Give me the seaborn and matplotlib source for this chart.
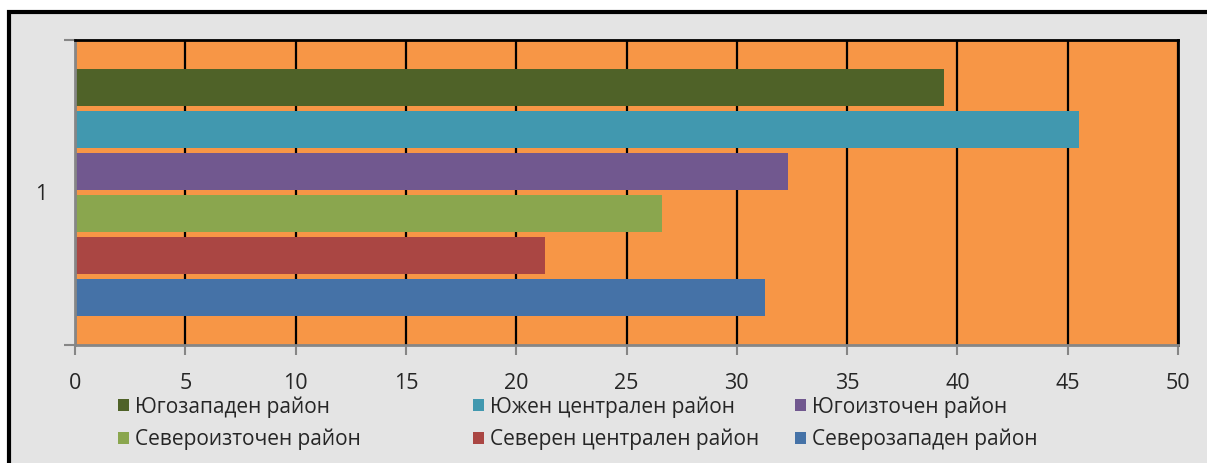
import pandas as pd
import seaborn as sns
import matplotlib.pyplot as plt
from matplotlib.patches import Rectangle

# chart data
regions = ['Югозападен район', 'Южен централен район', 'Югоизточен район',
           'Североизточен район', 'Северен централен район', 'Северозападен район']
values = [39.4, 45.5, 32.3, 26.6, 21.3, 31.3]
category = ['1'] * len(regions)
colors = ['#4f6228', '#4198af', '#71588f', '#8aa64e', '#aa4643', '#4572a7']

df = pd.DataFrame({'cat': category, 'region': regions, 'value': values})

sns.set_style('white')
plt.rcParams['font.family'] = ['Open Sans', 'DejaVu Sans']

fig = plt.figure(figsize=(12.07, 4.63), dpi=100, facecolor='white')
fig.patches.append(Rectangle((8.5 / 1207, -0.1), 1.2, 1 - 11.5 / 463 + 0.1,
                             transform=fig.transFigure, facecolor='#e4e4e4',
                             edgecolor='black', lw=3, zorder=-10))
ax = fig.add_axes([75 / 1207, 1 - 345 / 463, (1178 - 75) / 1207, (345 - 40) / 463])

sns.barplot(data=df, x='value', y='cat', hue='region', hue_order=regions,
            palette=colors, orient='h', width=0.826, gap=0.12, ax=ax,
            saturation=1, linewidth=0)

handles, labels = ax.get_legend_handles_labels()
ax.get_legend().remove()

ax.set_facecolor('#f79646')
ax.set_xlim(0, 50)
ax.set_xticks(range(0, 51, 5))
ax.set_xlabel('')
ax.set_ylabel('')
ax.set_yticks([0], ['1'])
ax.set_yticks([-0.5, 0.5], minor=True)
ax.tick_params(axis='y', which='major', length=0, pad=20, labelsize=15.5)
ax.tick_params(axis='y', which='minor', length=8, width=1.5, color='#868686', left=True)
ax.tick_params(axis='x', length=7, width=1.5, color='#868686', pad=13, labelsize=15.5, bottom=True)

ax.xaxis.grid(True, color='black', lw=1.6)
ax.set_axisbelow(True)
for s in ['left', 'bottom']:
    ax.spines[s].set_color('#868686')
    ax.spines[s].set_linewidth(2)
for s in ['top', 'right']:
    ax.spines[s].set_color('black')
    ax.spines[s].set_linewidth(2)

# legend in three columns, row-major like the original
col_x = [118, 473, 795]
for i, x in enumerate(col_x):
    leg = fig.legend([handles[i], handles[i + 3]], [labels[i], labels[i + 3]],
                     loc='upper left', bbox_to_anchor=(x / 1207, 1 - 396 / 463),
                     frameon=False, fontsize=15, borderpad=0, borderaxespad=0,
                     handlelength=0.52, handleheight=0.52, handletextpad=0.3,
                     labelspacing=0.55)

fig.savefig('out.png', dpi=100, facecolor='white')
